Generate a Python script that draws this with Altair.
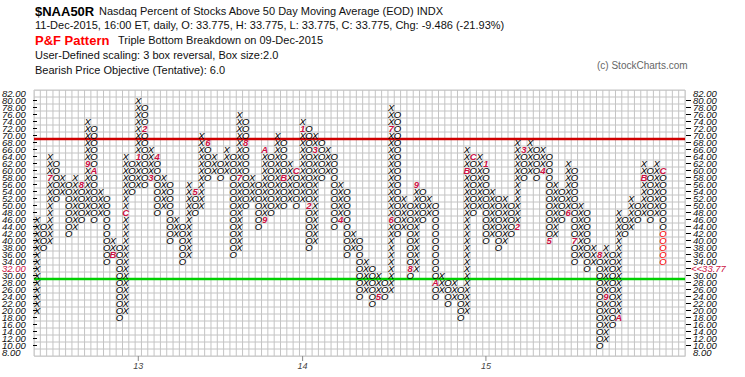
import altair as alt
import pandas as pd

NCOLS = 103  # grid columns (100 data columns + 3 empty ones at the right)

# ---- P&F columns (box size 2.0, 3 box reversal) ----
col_dir = ["X","O"] * 50
col_low = [20,38,40,52,54,42,44,46,48,46, 48,34,36,18,20,54,56,56,58,48,
           50,40,42,34,36,48,50,58,60,58, 60,36,38,50,52,44,46,48,50,50,
           52,50,52,38,40,58,60,44,46,36, 38,24,26,22,24,24,26,42,44,30,
           32,46,48,24,26,22,24,18,20,48, 50,40,42,38,40,42,44,58,60,58,
           60,40,42,46,48,34,36,32,34,10, 12,16,18,42,44,46,48,46,48,34]
col_high = [46,44,64,62,58,56,58,56,74,72, 54,52,40,38,64,62,80,78,66,64,
            58,56,46,44,56,54,70,68,64,62, 66,64,76,74,58,56,66,64,70,68,
            62,60,74,72,70,68,66,64,56,54, 42,40,34,32,30,28,78,76,52,50,
            56,54,52,50,30,28,28,26,66,64, 64,62,54,52,52,50,68,66,68,66,
            66,64,56,54,62,60,50,48,38,36, 38,36,48,46,52,50,62,60,62,60]

# month markers (column, box value, label)
mk_col = [2, 7, 8, 9, 12, 14, 16, 17, 18, 19, 25, 27, 32, 33, 36, 36, 39, 41,
          42, 43, 44, 48, 54, 56, 56, 59, 60, 63, 68, 69, 71, 76, 77, 80, 81,
          84, 85, 89, 90, 92, 96, 99]
mk_val = [58, 56, 62, 60, 36, 48, 64, 72, 58, 64, 54, 68, 58, 68, 46, 66, 58, 60,
          72, 50, 66, 46, 24, 46, 72, 32, 56, 28, 60, 64, 62, 44, 66, 60, 40,
          48, 40, 36, 24, 18, 58, 60]
mk_txt = ["7","8","9","A","B","C","1","2","3","4","5","6","7","8","9","A","B","C",
          "1","2","3","4","5","6","7","8","9","A","B","C","1","2","3","4","5",
          "6","7","8","9","A","B","C"]

# boxes of the latest move (drawn in red) in the last column
latest_vals = [42, 40, 38, 36, 34]

# axis
row_vals = list(range(8, 84, 2))
tick_rows = list(range(10, 82, 2))
year_col = [16, 42, 71]
year_txt = ["13", "14", "15"]
last_value_label = "<<33.77"
last_value_row = 32

# ---- build tables ----
mk = {(c, v): t for c, v, t in zip(mk_col, mk_val, mk_txt)}
recs = []
last = len(col_dir) - 1
for i, (d, lo, hi) in enumerate(zip(col_dir, col_low, col_high)):
    for v in range(lo, hi + 1, 2):
        if (i, v) in mk:
            k, t = "marker", mk[(i, v)]
        elif i == last and v in latest_vals:
            k, t = "latest", d
        else:
            k, t = "box", d
        recs.append({"xc": i + 0.5, "v": v, "t": t, "k": k})
boxes = pd.DataFrame(recs)

W, H = 651, 266
xs = alt.Scale(domain=[0, NCOLS], nice=False, zero=False)
ys = alt.Scale(domain=[7, 83], nice=False, zero=False)
X = lambda f: alt.X(f, scale=xs, axis=None)
Y = lambda f: alt.Y(f, scale=ys, axis=None)

gridv = alt.Chart(pd.DataFrame({"g": list(range(0, NCOLS + 1))})).mark_rule(
    color="#c4c4c4", strokeWidth=1).encode(x=X("g:Q"))
gridh = alt.Chart(pd.DataFrame({"g": list(range(7, 84, 2))})).mark_rule(
    color="#c4c4c4", strokeWidth=1).encode(y=Y("g:Q"))

red_line = alt.Chart(pd.DataFrame({"v": [69]})).mark_rule(strokeWidth=2.5, color="#d00000").encode(y=Y("v:Q"))
green_line = alt.Chart(pd.DataFrame({"v": [29]})).mark_rule(strokeWidth=2.5, color="#00d000").encode(y=Y("v:Q"))

def box_layer(kind, color, weight="normal"):
    return alt.Chart(boxes[boxes.k == kind]).mark_text(
        font="Liberation Sans", fontStyle="italic", fontWeight=weight, fontSize=9.5,
        baseline="middle", align="center", color=color).encode(
        x=X("xc:Q"), y=Y("v:Q"), text="t:N")

box_black = box_layer("box", "#000000")
box_red = box_layer("latest", "#ff0000")
box_mk = box_layer("marker", "#cc1144", "bold")

# axes labels
lab = pd.DataFrame({"v": row_vals, "t": [f"{v:.2f}" for v in row_vals]})
lab_n = lab[lab.v != last_value_row]
lab_h = lab[lab.v == last_value_row]

def lab_layer(df, x, color, field="t:N"):
    return alt.Chart(df).mark_text(font="Liberation Sans", fontStyle="italic", fontSize=9.5,
                                   align="left", baseline="middle", color=color).encode(
        x=alt.value(x), y=Y("v:Q"), text=field)

left_lab = lab_layer(lab_n, -32, "#111111")
left_lab_h = lab_layer(lab_h, -32, "#cc1144")
right_lab = lab_layer(lab_n, 659, "#111111")
right_lab_h = lab_layer(pd.DataFrame({"v": [last_value_row], "t": [last_value_label]}), 657, "#cc1144")

tk = pd.DataFrame({"v": tick_rows})
left_tk = alt.Chart(tk).mark_rule(color="#000000", strokeWidth=1).encode(
    x=alt.value(-1), x2=alt.value(3), y=Y("v:Q"))
right_tk = alt.Chart(tk).mark_rule(color="#000000", strokeWidth=1).encode(
    x=alt.value(652), x2=alt.value(657), y=Y("v:Q"))

yr = pd.DataFrame({"xc": [c + 0.5 for c in year_col], "t": year_txt})
yr_tk = alt.Chart(yr).mark_rule(color="#888888").encode(
    x=X("xc:Q"), y=alt.value(266), y2=alt.value(271))
yr_lab = alt.Chart(yr).mark_text(font="Liberation Sans", fontStyle="italic", fontSize=9,
                                  color="#444444", baseline="middle", align="center").encode(
    x=X("xc:Q"), y=alt.value(276), text="t:N")

# header
def htext(txt, x, y, size=11, weight="normal", color="#111111"):
    return alt.Chart(pd.DataFrame({"t": [txt]})).mark_text(
        font="Liberation Sans", fontSize=size, fontWeight=weight, color=color,
        align="left", baseline="middle").encode(x=alt.value(x), y=alt.value(y), text="t:N")

hdr = [
    htext("$NAA50R", 1, -78, 13, "bold", "#000000"),
    htext("Nasdaq Percent of Stocks Above 50 Day Moving Average (EOD)  INDX", 65, -78),
    htext("11-Dec-2015, 16:00 ET, daily, O: 33.775, H: 33.775, L: 33.775, C: 33.775, Chg: -9.486 (-21.93%)", 1, -64),
    htext("P&F Pattern", 1, -49, 13, "bold", "#ff0000"),
    htext("Triple Bottom Breakdown on 09-Dec-2015", 84, -49),
    htext("User-Defined scaling: 3 box reversal, Box size:2.0", 1, -34),
    htext("Bearish Price Objective (Tentative): 6.0", 1, -19),
    htext("(c) StockCharts.com", 563, -24, 10, "normal", "#666666"),
]

chart = alt.layer(gridv, gridh, red_line, green_line, box_black, box_red, box_mk,
                  left_lab, left_lab_h, right_lab, right_lab_h, left_tk, right_tk,
                  yr_tk, yr_lab, *hdr).properties(
    width=W, height=H, autosize="none",
    padding={"left": 34, "top": 90, "right": 745 - 34 - W, "bottom": 377 - 90 - H}
).configure_view(strokeWidth=0).configure(background="white")

chart.save("out.html", embed_options={"renderer": "svg", "actions": False})
